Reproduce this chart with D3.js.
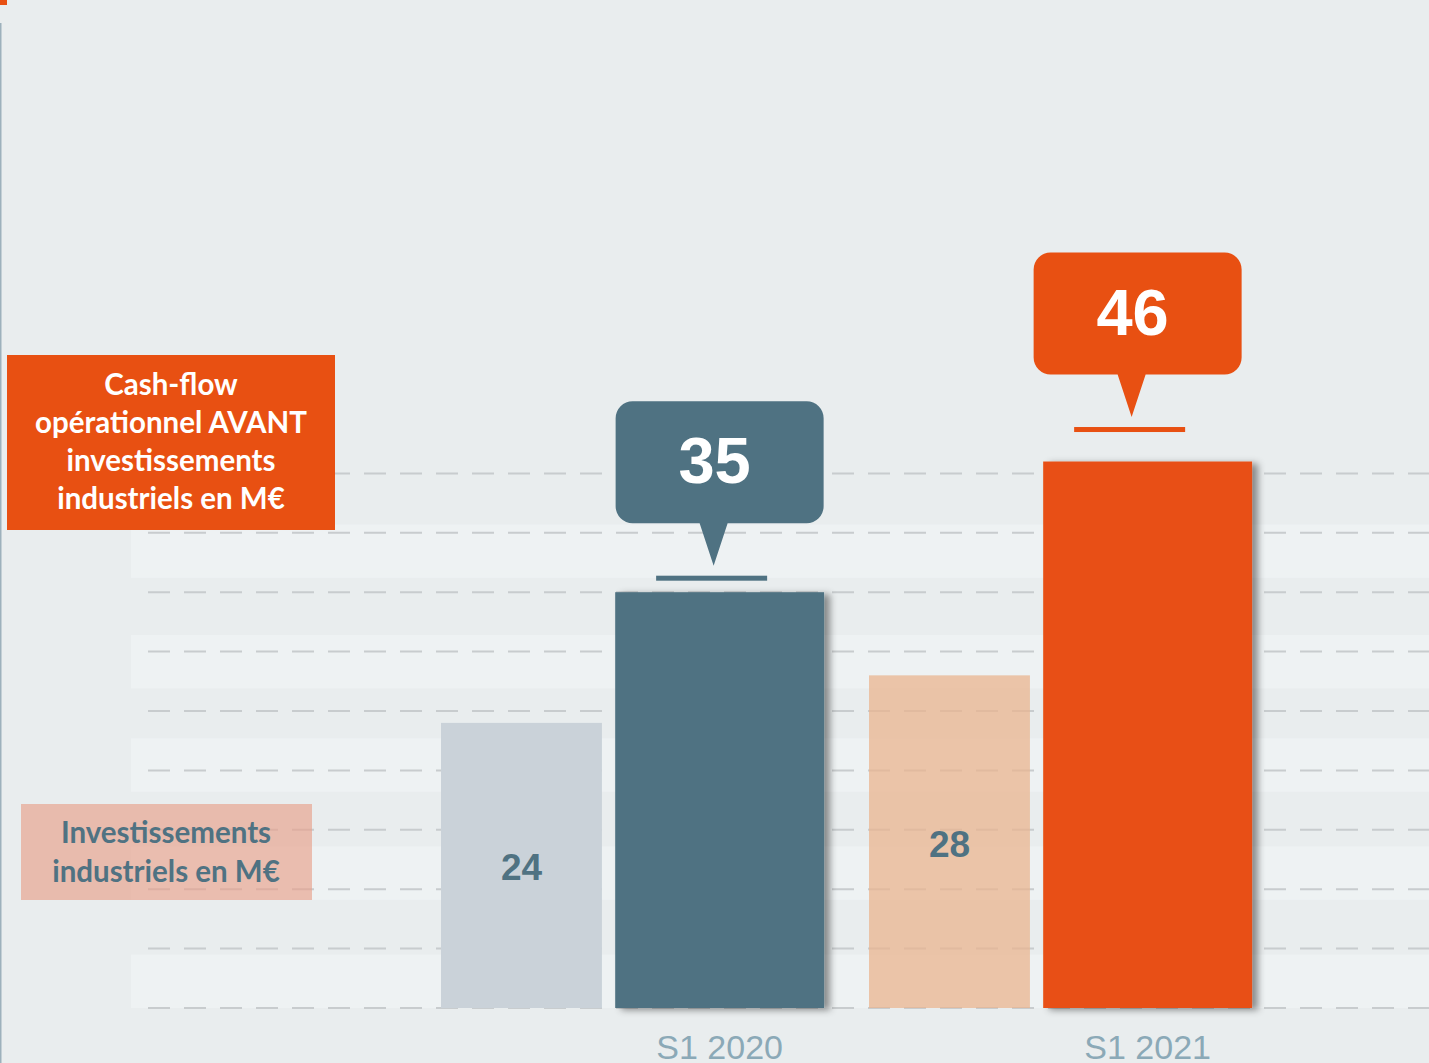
<!DOCTYPE html>
<html>
<head>
<meta charset="utf-8">
<script src="https://cdn.jsdelivr.net/npm/d3@7"></script>
<style>
  html, body { margin: 0; padding: 0; background: #E9EDEE; overflow: hidden; }
  svg { display: block; }
</style>
</head>
<body>
<script>
// ---- data ----
const periods = ["S1 2020", "S1 2021"];
const investissements = [24, 28];          // Investissements industriels en M€
const cashflow = [35, 46];                 // Cash-flow opérationnel AVANT investissements
const gridValues = [0, 5, 10, 15, 20, 25, 30, 35, 40, 45];
const bandStarts = [0, 9.1, 18.2, 26.9, 36.2];
const bandSize = 4.5;
const cashLabelLines = ["Cash-flow", "opérationnel AVANT", "investissements", "industriels en M€"];
const invLabelLines = ["Investissements", "industriels en M€"];

// ---- layout (relative offsets of the callouts above their bars) ----
const calloutLift = [14, 32];
const calloutShift = [0, -10];

// ---- setup ----
const W = 1429, H = 1063;
const svg = d3.select("body").append("svg").attr("width", W).attr("height", H);

const colors = {
  bg: "#E9EDEE", band: "#EEF2F3", grid: "#C8CCCE",
  inv2020: "#CAD2D9", slate: "#4F7282", orange: "#E85012",
  inv2021: "#E9B48F", pink: "#E8A08A", axis: "#8BA9B7", edge: "#9DB1BC"
};

const defs = svg.append("defs");
const f = defs.append("filter").attr("id", "shadow")
  .attr("x", "-10%").attr("y", "-5%").attr("width", "130%").attr("height", "115%");
f.append("feDropShadow").attr("dx", 6).attr("dy", 2).attr("stdDeviation", 3.5)
  .attr("flood-color", "#000").attr("flood-opacity", 0.42);

svg.append("rect").attr("width", W).attr("height", H).attr("fill", colors.bg);

const y = d3.scaleLinear().domain([0, 50]).range([1008, 414]);
const xg = d3.scaleBand().domain(periods).range([441, 1297]).paddingInner(0);
const bw = xg.bandwidth();
const smallX = p => xg(p);
const smallW = bw * 0.376;
const bigX = p => xg(p) + bw * 0.407;
const bigW = bw * 0.488;

// background bands
svg.append("g").selectAll("rect").data(bandStarts).join("rect")
  .attr("x", 131).attr("width", W - 131)
  .attr("y", d => y(d + bandSize)).attr("height", d => y(d) - y(d + bandSize))
  .attr("fill", colors.band);

// left edge decorations
svg.append("rect").attr("x", 0).attr("y", 0).attr("width", 7).attr("height", 5).attr("fill", colors.orange);
svg.append("rect").attr("x", 0).attr("y", 23).attr("width", 1.5).attr("height", H - 23).attr("fill", colors.edge);

// grid lines
svg.append("g").selectAll("line").data(gridValues).join("line")
  .attr("x1", 148).attr("x2", W)
  .attr("y1", d => y(d)).attr("y2", d => y(d))
  .attr("stroke", colors.grid).attr("stroke-width", 2)
  .attr("stroke-dasharray", "22 14");

// investissements bars
svg.append("g").selectAll("rect").data(periods).join("rect")
  .attr("x", p => smallX(p)).attr("width", smallW)
  .attr("y", (p, i) => y(investissements[i]))
  .attr("height", (p, i) => y(0) - y(investissements[i]))
  .attr("fill", (p, i) => i === 0 ? colors.inv2020 : colors.inv2021)
  .attr("fill-opacity", (p, i) => i === 0 ? 1 : 0.75);

svg.append("g").selectAll("text").data(periods).join("text")
  .attr("x", p => smallX(p) + smallW / 2)
  .attr("y", (p, i) => (y(investissements[i]) + y(0)) / 2 + 15)
  .attr("text-anchor", "middle")
  .attr("font-family", "Liberation Sans, Arial, sans-serif")
  .attr("font-weight", "bold").attr("font-size", 37)
  .attr("fill", colors.slate)
  .text((p, i) => investissements[i]);

// cashflow bars
const barColor = i => i === 0 ? colors.slate : colors.orange;
svg.append("g").selectAll("rect").data(periods).join("rect")
  .attr("x", p => bigX(p)).attr("width", bigW)
  .attr("y", (p, i) => y(cashflow[i]))
  .attr("height", (p, i) => y(0) - y(cashflow[i]))
  .attr("fill", (p, i) => barColor(i))
  .attr("filter", "url(#shadow)");

// callouts
const callouts = svg.append("g").selectAll("g").data(periods).join("g");
callouts.each(function (p, i) {
  const g = d3.select(this);
  const cx = bigX(p) + bigW / 2 + calloutShift[i];
  const px = cx - 6;
  const lineY = y(cashflow[i]) - calloutLift[i];
  const apexY = lineY - 12.5;
  const rectB = lineY - 55;
  const rectT = rectB - 122;
  const rw = 208, r = 17;
  const l = cx - rw / 2, rr = cx + rw / 2;
  const path = d3.path();
  path.moveTo(l + r, rectT);
  path.lineTo(rr - r, rectT);
  path.arcTo(rr, rectT, rr, rectT + r, r);
  path.lineTo(rr, rectB - r);
  path.arcTo(rr, rectB, rr - r, rectB, r);
  path.lineTo(px + 14, rectB);
  path.lineTo(px, apexY);
  path.lineTo(px - 14, rectB);
  path.lineTo(l + r, rectB);
  path.arcTo(l, rectB, l, rectB - r, r);
  path.lineTo(l, rectT + r);
  path.arcTo(l, rectT, l + r, rectT, r);
  path.closePath();
  g.append("path").attr("d", path.toString()).attr("fill", barColor(i));
  g.append("rect").attr("x", cx - 8 - 55.5).attr("width", 111)
    .attr("y", lineY - 2.5).attr("height", 5).attr("fill", barColor(i));
  g.append("text")
    .attr("x", cx - 5).attr("y", (rectT + rectB) / 2 + 21)
    .attr("text-anchor", "middle")
    .attr("font-family", "Liberation Sans, Arial, sans-serif")
    .attr("font-weight", "bold").attr("font-size", 65)
    .attr("fill", "#FFFFFF")
    .text(cashflow[i]);
});

// x axis labels
svg.append("g").selectAll("text").data(periods).join("text")
  .attr("x", p => bigX(p) + bigW / 2)
  .attr("y", 1059)
  .attr("text-anchor", "middle")
  .attr("font-family", "Liberation Sans, Arial, sans-serif")
  .attr("font-size", 34)
  .attr("fill", colors.axis)
  .text(p => p);

// legend boxes
const lab = svg.append("g");
lab.append("rect").attr("x", 7).attr("y", 355).attr("width", 328).attr("height", 175)
  .attr("fill", colors.orange);
lab.append("g").selectAll("text").data(cashLabelLines).join("text")
  .attr("x", 171).attr("y", (d, i) => 395 + i * 38)
  .attr("text-anchor", "middle")
  .attr("font-family", "Lato, 'Open Sans', sans-serif")
  .attr("font-weight", "bold").attr("font-size", 29.5)
  .attr("fill", "#FFFFFF")
  .text(d => d);

lab.append("rect").attr("x", 21).attr("y", 804).attr("width", 291).attr("height", 96)
  .attr("fill", colors.pink).attr("fill-opacity", 0.65);
lab.append("g").selectAll("text").data(invLabelLines).join("text")
  .attr("x", 166).attr("y", (d, i) => 843 + i * 39)
  .attr("text-anchor", "middle")
  .attr("font-family", "Lato, 'Open Sans', sans-serif")
  .attr("font-weight", "bold").attr("font-size", 29.5)
  .attr("fill", colors.slate)
  .text(d => d);
</script>
</body>
</html>
